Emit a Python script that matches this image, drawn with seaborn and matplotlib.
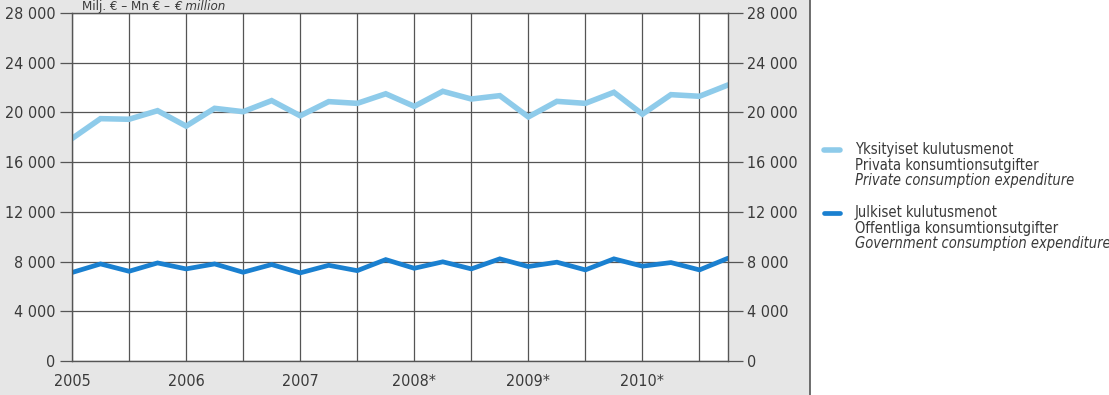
import numpy as np
import pandas as pd
import matplotlib
matplotlib.use("Agg")
import matplotlib.pyplot as plt
import seaborn as sns
from matplotlib.lines import Line2D
from matplotlib.patches import Rectangle

# quarterly data 2005Q1 - 2010Q4, € million
quarters = list(range(24))
private = [17900, 19500, 19450, 20140, 18900, 20330, 20060, 20950,
           19730, 20870, 20730, 21500, 20490, 21700, 21080, 21350,
           19640, 20890, 20730, 21620, 19860, 21430, 21300, 22210]
government = [7120, 7810, 7220, 7890, 7410, 7810, 7140, 7760,
              7090, 7700, 7270, 8160, 7460, 7980, 7410, 8220,
              7600, 7950, 7330, 8220, 7630, 7920, 7330, 8270]
year_labels = ["2005", "2006", "2007", "2008*", "2009*", "2010*"]
y_ticks = [0, 4000, 8000, 12000, 16000, 20000, 24000, 28000]

c_private = "#8ecbea"
c_gov = "#1a80d0"
txt_c = "#3a3a3a"

df = pd.DataFrame({
    "q": quarters * 2,
    "value": private + government,
    "series": ["private"] * 24 + ["government"] * 24,
})

sns.set_style("white")
plt.rcParams["font.family"] = ["DejaVu Sans"]
plt.rcParams["font.stretch"] = "condensed"

fig = plt.figure(figsize=(11.09, 3.95), dpi=100)
fig.patch.set_facecolor("#e6e6e6")
# white legend panel on the right
fig.add_artist(Rectangle((810 / 1109, 0), 1 - 810 / 1109, 1, transform=fig.transFigure,
                         facecolor="white", edgecolor="none", zorder=0))
fig.add_artist(Line2D([810 / 1109, 810 / 1109], [0, 1], transform=fig.transFigure,
                      color="#555555", lw=1.2))

ax = fig.add_axes([72 / 1109, 34 / 395, 656 / 1109, 348 / 395])
ax.set_facecolor("white")

sns.lineplot(data=df, x="q", y="value", hue="series",
             palette={"private": c_private, "government": c_gov},
             legend=False, ax=ax)
for line, lw in zip(ax.get_lines(), [4.0, 3.4]):
    line.set_linewidth(lw)
    line.set_solid_joinstyle("miter")

ax.set_xlim(0, 23)
ax.set_ylim(0, 28000)
ax.set_xlabel("")
ax.set_ylabel("")

# x axis: half-year gridlines, year labels
ax.set_xticks(range(0, 23, 2))
ax.set_xticklabels([year_labels[i // 4] if i % 4 == 0 else "" for i in range(0, 23, 2)])
ax.set_xticks(range(1, 24, 2), minor=True)
ax.set_yticks(y_ticks)
ax.set_yticklabels([f"{v:,}".replace(",", " ") for v in y_ticks])
ax.grid(True, which="major", color="#555555", lw=0.9)
ax.tick_params(axis="x", which="major", length=7, width=0.9, color="#555555",
               labelsize=11.5, labelcolor=txt_c, pad=2)
ax.tick_params(axis="x", which="minor", length=3, width=0.9, color="#555555")
ax.tick_params(axis="y", length=9, width=0.9, color="#555555",
               labelsize=11.5, labelcolor=txt_c, pad=3)
for s in ax.spines.values():
    s.set_color("#555555")
    s.set_linewidth(1.0)

ax2 = ax.twinx()
ax2.set_ylim(0, 28000)
ax2.set_yticks(y_ticks)
ax2.set_yticklabels([f"{v:,}".replace(",", " ") for v in y_ticks])
ax2.tick_params(axis="y", length=11, width=0.9, color="#555555",
                labelsize=11.5, labelcolor=txt_c, pad=3)
for s in ax2.spines.values():
    s.set_visible(False)

# unit label at the top
t1 = fig.text(82 / 1109, 1 - 10 / 395, "Milj. € – Mn € – ", fontsize=9.5, color=txt_c, va="baseline")
fig.canvas.draw()
bb = t1.get_window_extent()
fig.text(bb.x1 / 1109, 1 - 10 / 395, "€ million", fontsize=9.5,
         color=txt_c, va="baseline", style="italic")

# legend drawn by hand
entries = [
    (c_private, 4.0, 149, ["Yksityiset kulutusmenot", "Privata konsumtionsutgifter",
                           "Private consumption expenditure"]),
    (c_gov, 3.4, 212, ["Julkiset kulutusmenot", "Offentliga konsumtionsutgifter",
                       "Government consumption expenditure"]),
]
for color, lw, ytop, lines in entries:
    fig.add_artist(Line2D([824 / 1109, 840 / 1109], [1 - (ytop + 1) / 395] * 2,
                          transform=fig.transFigure, color=color, lw=lw))
    for k, txt in enumerate(lines):
        fig.text(855 / 1109, 1 - (ytop + 5 + k * 15.5) / 395, txt, fontsize=10.5,
                 color=txt_c, va="baseline", style="italic" if k == 2 else "normal")

fig.savefig("out.png", dpi=100, facecolor=fig.get_facecolor())
